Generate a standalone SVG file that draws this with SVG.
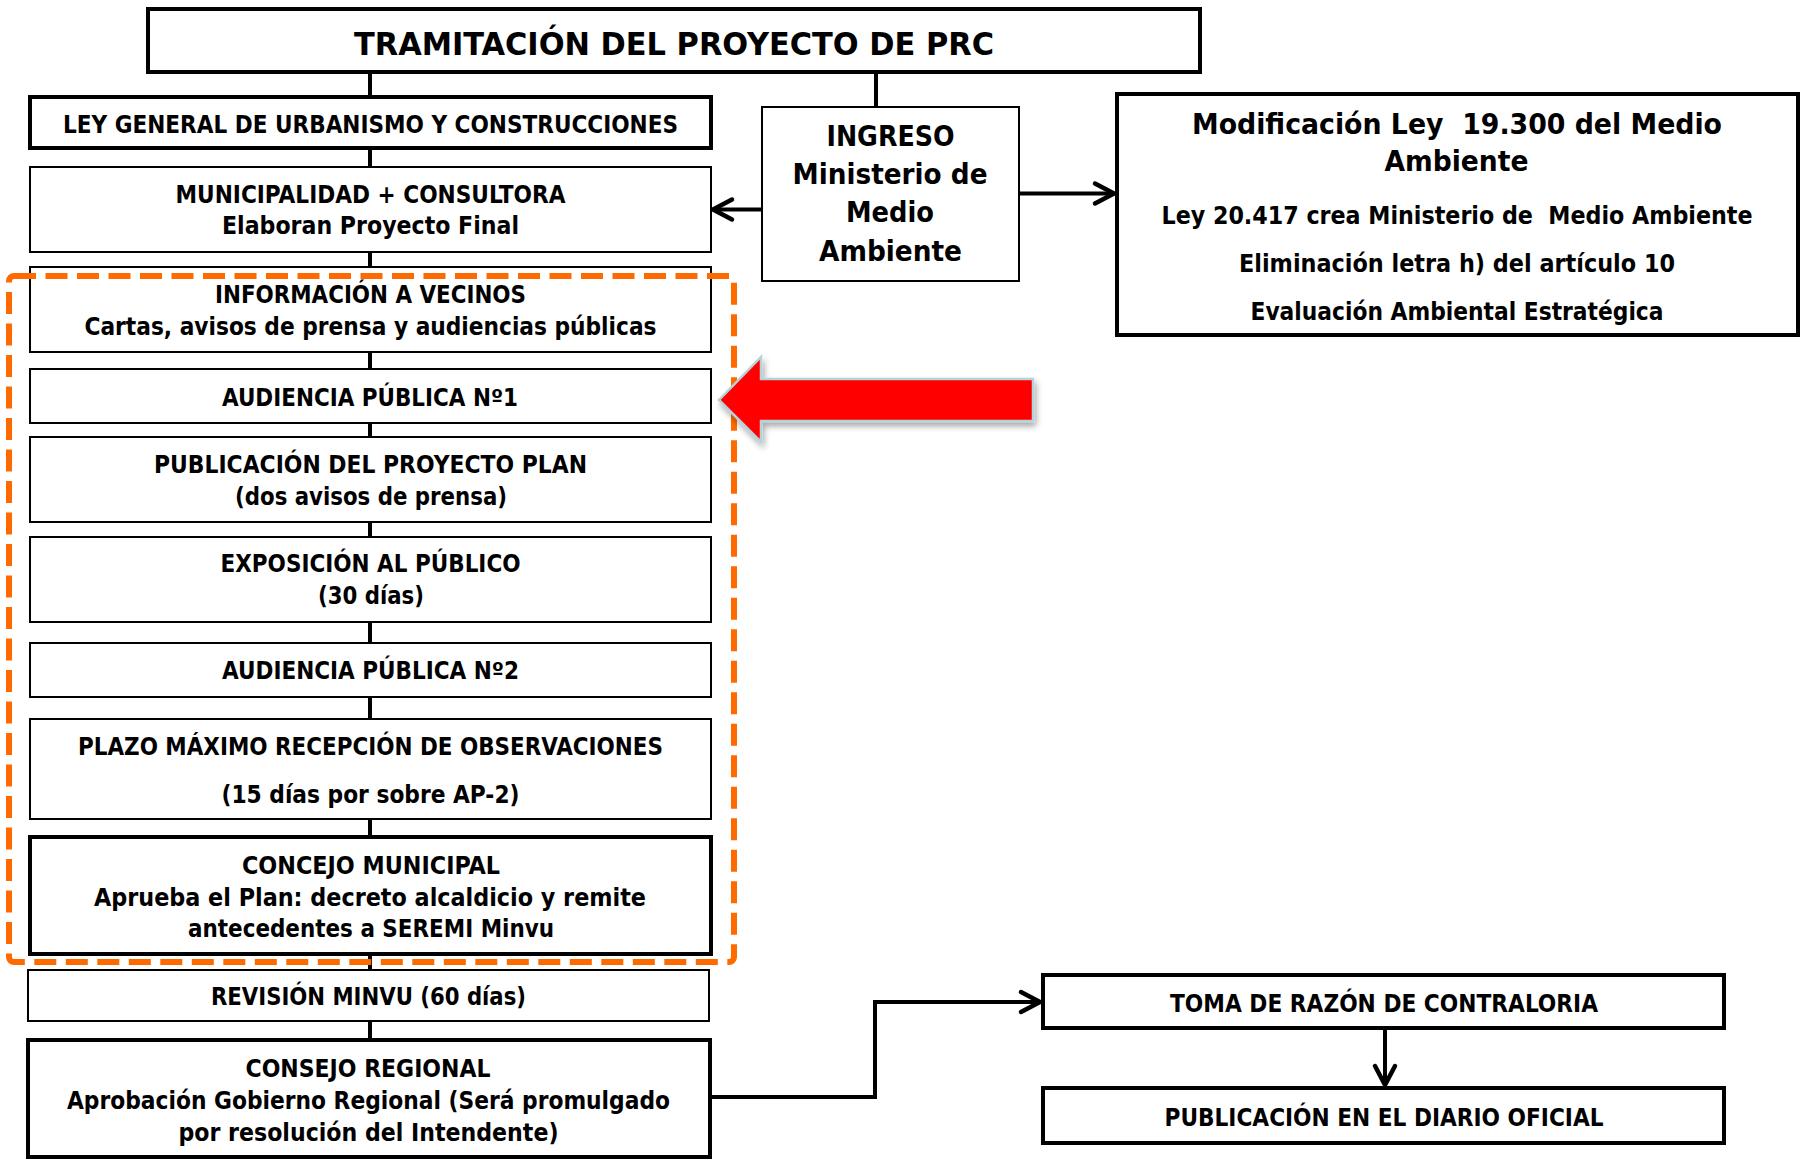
<svg xmlns="http://www.w3.org/2000/svg" width="1806" height="1160" viewBox="0 0 1806 1160">
<defs>
<style>
.box{fill:#fff;stroke:#000;stroke-width:2}
.thick{stroke-width:4}
.t{font-family:"DejaVu Sans Condensed","DejaVu Sans",sans-serif;font-stretch:condensed;font-weight:bold;font-size:24px;text-anchor:middle;fill:#000}
.big{font-size:28px}
.title{font-size:32px}
.conn{stroke:#000;stroke-width:4;fill:none}
.arr{marker-end:url(#ah)}
</style>
<marker id="ah" markerUnits="userSpaceOnUse" markerWidth="30" markerHeight="30" viewBox="0 0 30 30" refX="23" refY="15" orient="auto">
<path d="M4,5 L23,15 L4,25" fill="none" stroke="#000" stroke-width="4.5" stroke-linecap="round" stroke-linejoin="round"/>
</marker>
<filter id="sh" x="-10%" y="-30%" width="130%" height="170%">
<feGaussianBlur in="SourceAlpha" stdDeviation="3"/>
<feOffset dx="2" dy="4" result="o"/>
<feComponentTransfer><feFuncA type="linear" slope="0.35"/></feComponentTransfer>
<feMerge><feMergeNode/><feMergeNode in="SourceGraphic"/></feMerge>
</filter>
</defs>
<rect width="1806" height="1160" fill="#fff"/>

<g id="connectors">
<line class="conn" x1="370" y1="72" x2="370" y2="97"/>
<line class="conn" x1="876" y1="72" x2="876" y2="107"/>
<line class="conn" x1="370" y1="148" x2="370" y2="167"/>
<line class="conn" x1="370" y1="252" x2="370" y2="267"/>
<line class="conn" x1="370" y1="352" x2="370" y2="369"/>
<line class="conn" x1="370" y1="423" x2="370" y2="437"/>
<line class="conn" x1="370" y1="522" x2="370" y2="537"/>
<line class="conn" x1="370" y1="622" x2="370" y2="643"/>
<line class="conn" x1="370" y1="697" x2="370" y2="719"/>
<line class="conn" x1="370" y1="819" x2="370" y2="837"/>
<line class="conn" x1="370" y1="954" x2="370" y2="970"/>
<line class="conn" x1="370" y1="1021" x2="370" y2="1040"/>
<line class="conn arr" x1="762" y1="209.5" x2="713" y2="209.5"/>
<line class="conn arr" x1="1019" y1="193.5" x2="1114" y2="193.5"/>
<polyline class="conn arr" points="710,1097 875,1097 875,1002 1040,1002"/>
<line class="conn arr" x1="1385" y1="1028" x2="1385" y2="1085"/>
</g>

<g id="n-title">
<rect class="box thick" x="148" y="9" width="1052" height="63"/>
<text class="t title" x="674" y="55" textLength="640" lengthAdjust="spacingAndGlyphs">TRAMITACIÓN DEL PROYECTO DE PRC</text>
</g>
<g id="n-ley">
<rect class="box thick" x="30" y="97" width="681" height="51"/>
<text class="t" x="370.5" y="132.5" textLength="615" lengthAdjust="spacingAndGlyphs">LEY GENERAL DE URBANISMO Y CONSTRUCCIONES</text>
</g>
<g id="n-municipalidad">
<rect class="box" x="30" y="167" width="681" height="85"/>
<text class="t" x="370.5" y="203" textLength="390" lengthAdjust="spacingAndGlyphs">MUNICIPALIDAD + CONSULTORA</text>
<text class="t" x="370.5" y="234" textLength="297" lengthAdjust="spacingAndGlyphs">Elaboran Proyecto Final</text>
</g>
<g id="n-ingreso">
<rect class="box" x="762" y="107" width="257" height="174"/>
<text class="t big" x="890.5" y="146" textLength="128" lengthAdjust="spacingAndGlyphs">INGRESO</text>
<text class="t big" x="890" y="184" textLength="195" lengthAdjust="spacingAndGlyphs">Ministerio de</text>
<text class="t big" x="890" y="222" textLength="88" lengthAdjust="spacingAndGlyphs">Medio</text>
<text class="t big" x="890.5" y="261" textLength="143" lengthAdjust="spacingAndGlyphs">Ambiente</text>
</g>
<g id="n-modificacion">
<rect class="box thick" x="1117" y="94" width="681" height="241"/>
<text class="t big" x="1457" y="134" textLength="530" lengthAdjust="spacingAndGlyphs" xml:space="preserve">Modificación Ley  19.300 del Medio</text>
<text class="t big" x="1456.5" y="171" textLength="144" lengthAdjust="spacingAndGlyphs">Ambiente</text>
<text class="t" x="1457" y="223.5" textLength="591" lengthAdjust="spacingAndGlyphs" xml:space="preserve">Ley 20.417 crea Ministerio de  Medio Ambiente</text>
<text class="t" x="1457" y="272" textLength="436" lengthAdjust="spacingAndGlyphs">Eliminación letra h) del artículo 10</text>
<text class="t" x="1457" y="319.5" textLength="413" lengthAdjust="spacingAndGlyphs">Evaluación Ambiental Estratégica</text>
</g>
<g id="n-informacion">
<rect class="box" x="30" y="267" width="681" height="85"/>
<text class="t" x="370.5" y="302.5" textLength="311" lengthAdjust="spacingAndGlyphs">INFORMACIÓN A VECINOS</text>
<text class="t" x="370.5" y="334.5" textLength="572" lengthAdjust="spacingAndGlyphs">Cartas, avisos de prensa y audiencias públicas</text>
</g>
<g id="n-audiencia1">
<rect class="box" x="30" y="369" width="681" height="54"/>
<text class="t" x="370" y="405.5" textLength="296" lengthAdjust="spacingAndGlyphs">AUDIENCIA PÚBLICA Nº1</text>
</g>
<g id="n-publicacion">
<rect class="box" x="30" y="437" width="681" height="85"/>
<text class="t" x="370.5" y="472.5" textLength="433" lengthAdjust="spacingAndGlyphs">PUBLICACIÓN DEL PROYECTO PLAN</text>
<text class="t" x="371" y="505" textLength="272" lengthAdjust="spacingAndGlyphs">(dos avisos de prensa)</text>
</g>
<g id="n-exposicion">
<rect class="box" x="30" y="537" width="681" height="85"/>
<text class="t" x="370.5" y="572" textLength="300" lengthAdjust="spacingAndGlyphs">EXPOSICIÓN AL PÚBLICO</text>
<text class="t" x="371" y="604" textLength="106" lengthAdjust="spacingAndGlyphs">(30 días)</text>
</g>
<g id="n-audiencia2">
<rect class="box" x="30" y="643" width="681" height="54"/>
<text class="t" x="370.5" y="679" textLength="297" lengthAdjust="spacingAndGlyphs">AUDIENCIA PÚBLICA Nº2</text>
</g>
<g id="n-plazo">
<rect class="box" x="30" y="719" width="681" height="100"/>
<text class="t" x="370.5" y="754.5" textLength="585" lengthAdjust="spacingAndGlyphs">PLAZO MÁXIMO RECEPCIÓN DE OBSERVACIONES</text>
<text class="t" x="370.5" y="802.5" textLength="298" lengthAdjust="spacingAndGlyphs">(15 días por sobre AP-2)</text>
</g>
<g id="n-concejo">
<rect class="box thick" x="30" y="837" width="681" height="117"/>
<text class="t" x="371" y="874" textLength="258" lengthAdjust="spacingAndGlyphs">CONCEJO MUNICIPAL</text>
<text class="t" x="370" y="905.5" textLength="552" lengthAdjust="spacingAndGlyphs">Aprueba el Plan: decreto alcaldicio y remite</text>
<text class="t" x="371" y="937" textLength="366" lengthAdjust="spacingAndGlyphs">antecedentes a SEREMI Minvu</text>
</g>
<g id="n-revision">
<rect class="box" x="28" y="970" width="681" height="51"/>
<text class="t" x="368.5" y="1005" textLength="315" lengthAdjust="spacingAndGlyphs">REVISIÓN MINVU (60 días)</text>
</g>
<g id="n-consejo">
<rect class="box thick" x="28" y="1040" width="682" height="117"/>
<text class="t" x="368" y="1076.5" textLength="245" lengthAdjust="spacingAndGlyphs">CONSEJO REGIONAL</text>
<text class="t" x="368.5" y="1108.5" textLength="603" lengthAdjust="spacingAndGlyphs">Aprobación Gobierno Regional (Será promulgado</text>
<text class="t" x="368.5" y="1140.5" textLength="380" lengthAdjust="spacingAndGlyphs">por resolución del Intendente)</text>
</g>
<g id="n-toma">
<rect class="box thick" x="1043" y="975" width="681" height="53"/>
<text class="t" x="1384" y="1012" textLength="428" lengthAdjust="spacingAndGlyphs">TOMA DE RAZÓN DE CONTRALORIA</text>
</g>
<g id="n-diario">
<rect class="box thick" x="1043" y="1088" width="681" height="55"/>
<text class="t" x="1384" y="1125.5" textLength="439" lengthAdjust="spacingAndGlyphs">PUBLICACIÓN EN EL DIARIO OFICIAL</text>
</g>

<g id="highlight">
<rect x="9" y="276" width="725" height="686" rx="5" fill="none" stroke="#FF6A00" stroke-width="6" stroke-dasharray="22 9.5"/>
</g>
<g id="red-arrow">
<polygon points="719,400 761,357 761,379 1033,379 1033,421 761,421 761,442" fill="#FF0000" stroke="#B4D2D8" stroke-width="2.5" stroke-linejoin="miter" filter="url(#sh)"/>
</g>
</svg>
